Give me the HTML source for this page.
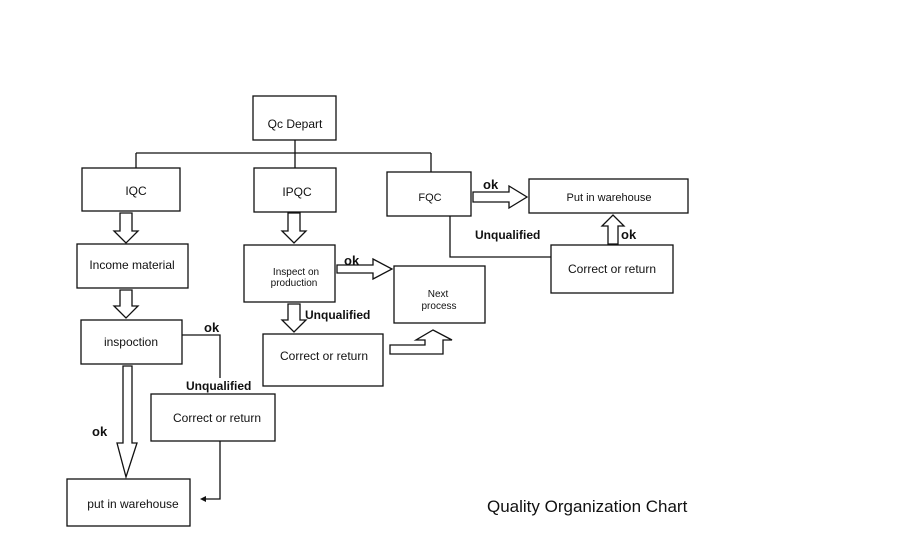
<!DOCTYPE html>
<html><head><style>body{margin:0;background:#fff}svg{display:block}text{font-family:"Liberation Sans",Arial,sans-serif;fill:#111}</style></head><body>
<svg width="902" height="541" viewBox="0 0 902 541" xmlns="http://www.w3.org/2000/svg">
<g fill="none" stroke="#111" stroke-width="1.3">
<rect x="253" y="96" width="83" height="44"/>
<path d="M295 140V153M136 153H431M136 153V168M295 153V168M431 153V172"/>
<rect x="82" y="168" width="98" height="43"/>
<rect x="254" y="168" width="82" height="44"/>
<rect x="387" y="172" width="84" height="44"/>
<rect x="529" y="179" width="159" height="34"/>
<rect x="551" y="245" width="122" height="48"/>
<rect x="77" y="244" width="111" height="44"/>
<rect x="81" y="320" width="101" height="44"/>
<rect x="244" y="245" width="91" height="57"/>
<rect x="394" y="266" width="91" height="57"/>
<rect x="263" y="334" width="120" height="52"/>
<rect x="151" y="394" width="124" height="47"/>
<rect x="67" y="479" width="123" height="47"/>
<path d="M182 335H220V378M220 441V499H202M450 216V257H551"/>
<path d="M120 213h12v18h6l-12 12-12-12h6z"/>
<path d="M120 290h12v16h6l-12 12-12-12h6z"/>
<path d="M288 213h12v18h6l-12 12-12-12h6z"/>
<path d="M288 304h12v16h6l-12 12-12-12h6z"/>
<path d="M123 366H132V443H137L126 477L117 443H123Z"/>
<path d="M337 265h36v-6l19 10-19 10v-6h-36z"/>
<path d="M473 192h36v-6l18 11-18 11v-6h-36z"/>
<path d="M608 244v-18h-6l11-11 11 11h-6v18z"/>
<path d="M390 345H425V340H416L433 330L452 340H443V354H390Z"/>
</g>
<path d="M200 499l6-3v6z" fill="#111"/>
<g font-size="12" text-anchor="middle">
<text x="295" y="128">Qc  Depart</text>
<text x="136" y="195">IQC</text>
<text x="297" y="196">IPQC</text>
<text x="430" y="201" font-size="11">FQC</text>
<text x="609" y="201" font-size="11">Put  in  warehouse</text>
<text x="612" y="273">Correct  or  return</text>
<text x="132" y="269">Income material</text>
<text x="131" y="346">inspoction</text>
<text x="296" y="275" font-size="10">Inspect  on</text>
<text x="294" y="286" font-size="10">production</text>
<text x="438" y="297" font-size="10">Next</text>
<text x="439" y="309" font-size="10">process</text>
<text x="324" y="360">Correct  or  return</text>
<text x="217" y="422">Correct  or  return</text>
<text x="133" y="508">put  in  warehouse</text>
</g>
<g font-size="12" font-weight="bold">
<text x="204" y="332" font-size="13">ok</text>
<text x="186" y="390">Unqualified</text>
<text x="92" y="436" font-size="13">ok</text>
<text x="344" y="265" font-size="13">ok</text>
<text x="305" y="319">Unqualified</text>
<text x="483" y="189" font-size="13">ok</text>
<text x="475" y="239">Unqualified</text>
<text x="621" y="239" font-size="13">ok</text>
</g>
<text x="487" y="512" font-size="17">Quality Organization Chart</text>
</svg>
</body></html>
